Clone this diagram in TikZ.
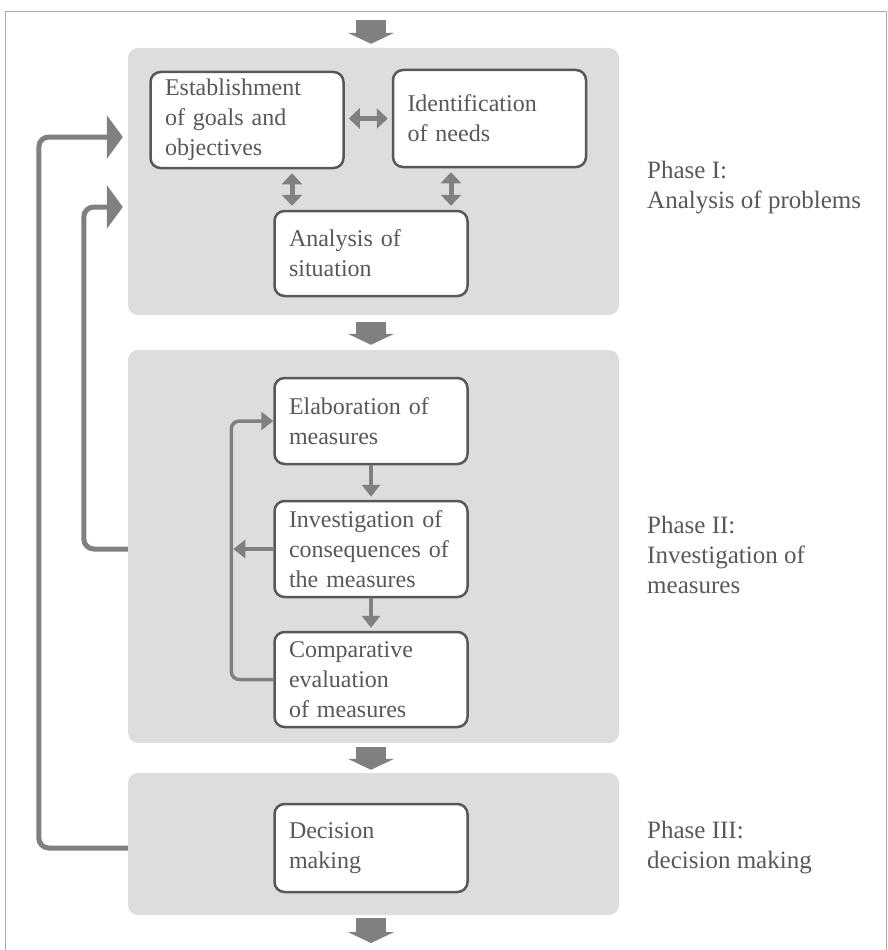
\documentclass[tikz,border=0pt]{standalone}
\usepackage{tikz}
\usepackage{xcolor}
\usepackage{fontspec}
\setmainfont{Liberation Serif}
\usetikzlibrary{calc,arrows.meta}

\definecolor{panelgray}{RGB}{221,221,221}
\definecolor{linegray}{RGB}{88,88,88}
\definecolor{textgray}{RGB}{88,88,88}
\definecolor{arrowgray}{RGB}{128,128,128}
\definecolor{framegray}{RGB}{170,170,170}

\begin{document}
\begin{tikzpicture}[
    x=1pt, y=-1pt,
    every node/.style={font=\fontsize{24}{30}\selectfont, text=textgray},
    phase/.style={fill=panelgray, rounded corners=10pt, minimum width=491pt, inner sep=0pt},
    stepbox/.style={draw=linegray, line width=2.5pt, fill=white, rounded corners=10pt, align=left, text width=164pt, inner xsep=14.5pt, inner ysep=0pt},
    phaselabel/.style={anchor=west, align=left, inner sep=0pt, font=\fontsize{25}{30}\selectfont},
    bigarrow/.style={draw=arrowgray, line width=30pt, -{Triangle[width=46pt,length=11pt]}},
    twoway/.style={draw=arrowgray, line width=5pt, {Triangle[width=20pt,length=11pt]}-{Triangle[width=20pt,length=11pt]}, shorten <=4pt, shorten >=4pt},
    flow/.style={draw=arrowgray, line width=3.5pt, -{Triangle[width=18pt,length=12pt]}},
    feedback/.style={draw=arrowgray, line width=5pt, rounded corners=10pt, -{Triangle[width=43pt,length=16pt]}, shorten >=5pt}
]
\useasboundingbox (0,0) rectangle (888,950);
\draw[framegray, line width=1pt] (5,950) -- (5,12) -- (886,12) -- (886,950);

\node[phase, minimum height=267pt] (p1) at (373.5,181.5) {};
\node[phase, minimum height=393pt] (p2) at (373.5,546.5) {};
\node[phase, minimum height=142pt] (p3) at (373.5,844) {};

\node[stepbox, minimum height=96pt] (goals) at (247,120) {Establishment\\of goals and\\objectives};
\node[stepbox, minimum height=97pt] (needs) at (489.5,118.5) {Identification\\of needs};
\node[stepbox, minimum height=85pt] (situation) at (371,253.5) {Analysis of\\situation};
\node[stepbox, minimum height=86pt] (elab) at (371,421) {Elaboration of\\measures};
\node[stepbox, minimum height=96pt] (invest) at (371,549) {Investigation of\\consequences of\\the measures};
\node[stepbox, minimum height=95pt] (compare) at (371,679.5) {Comparative\\evaluation\\of measures};
\node[stepbox, minimum height=88pt] (decision) at (371,848) {Decision\\making};

\node[phaselabel] (lab1) at (647,188) {Phase I:\\Analysis of problems};
\node[phaselabel] (lab2) at (647,555) {Phase II:\\Investigation of\\measures};
\node[phaselabel] (lab3) at (647,848) {Phase III:\\decision making};

\coordinate (in) at (371,20);
\coordinate (out) at (371,943);
\draw[bigarrow, shorten >=4pt] (in) -- (p1.north -| elab);
\draw[bigarrow, shorten <=7pt, shorten >=5pt] (p1.south -| elab) -- (p2.north -| elab);
\draw[bigarrow, shorten <=4pt, shorten >=3pt] (p2.south -| elab) -- (p3.north -| elab);
\draw[bigarrow, shorten <=3pt] (p3.south -| elab) -- (out);

\draw[twoway] (goals.east |- needs.west) -- (needs.west);
\draw[twoway] ([xshift=45pt]goals.south) -- ([xshift=45pt]goals.south |- situation.north);
\draw[twoway] ([xshift=-38.5pt]needs.south) -- ([xshift=-38.5pt]needs.south |- situation.north);

\draw[flow, shorten >=3pt] (elab) -- (invest);
\draw[flow, shorten >=3pt] (invest) -- (compare);
\coordinate (loop) at ($(compare.west)+(-42,0)$);
\draw[flow, rounded corners=8pt] (compare.west) -- (loop) |- (elab.west);
\draw[flow, shorten >=2pt] (invest.west) -- (invest.west -| loop);

\draw[feedback] (p2.west |- invest.west) -- ++(-44,0) |- ($(p1.west)+(0,25.5)$);
\draw[feedback] (p3.west |- decision.west) -- ++(-89,0) |- ($(p1.west)+(0,-44.5)$);
\end{tikzpicture}
\end{document}
